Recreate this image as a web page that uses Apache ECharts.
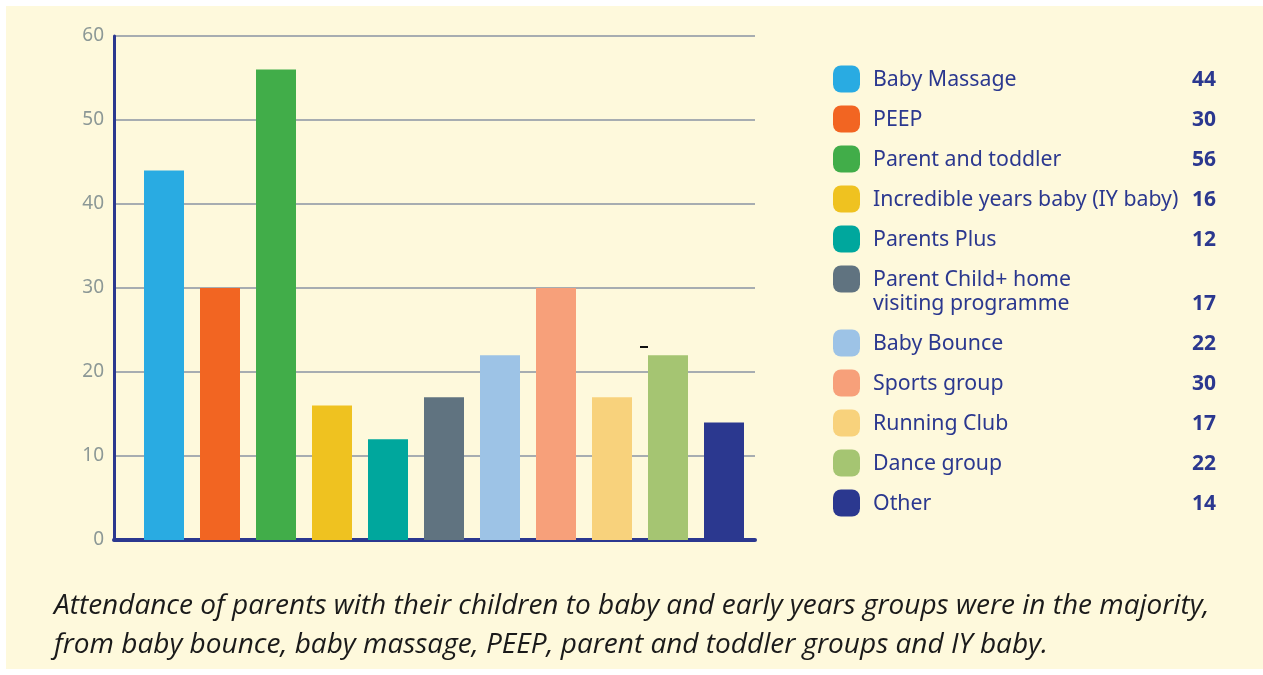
<!DOCTYPE html>
<html>
<head>
<meta charset="utf-8">
<script src="https://cdn.jsdelivr.net/npm/echarts@6/dist/echarts.min.js"></script>
<style>
  html, body { margin: 0; padding: 0; background: #ffffff; }
  #chart { position: absolute; left: 6px; top: 6px; width: 1257px; height: 663px; }
</style>
</head>
<body>
<div id="chart"></div>
<script>
// attendance per group
var categories = ['Baby Massage', 'PEEP', 'Parent and toddler', 'Incredible years baby (IY baby)',
    'Parents Plus', 'Parent Child+ home\nvisiting programme', 'Baby Bounce', 'Sports group',
    'Running Club', 'Dance group', 'Other'];
var values = [44, 30, 56, 16, 12, 17, 22, 30, 17, 22, 14];
var colors = ['#29ABE2', '#F26522', '#41AD49', '#EFC220', '#00A79D', '#607380',
    '#9DC3E6', '#F7A07A', '#F8D27C', '#A5C572', '#2B388F'];
var yTicks = [0, 10, 20, 30, 40, 50, 60];
var caption = 'Attendance of parents with their children to baby and early years groups were in the majority,\n' +
    'from baby bounce, baby massage, PEEP, parent and toddler groups and IY baby.';

var navy = '#2B388F';
var chart = echarts.init(document.getElementById('chart'));

// legend built from the arrays (icon + name + value), offsets are relative to chart div
var legendItems = [];
var rowY = 73; // centre of first row in chart coords
for (var i = 0; i < categories.length; i++) {
    var lines = categories[i].split('\n');
    legendItems.push({
        type: 'rect',
        shape: { x: 827, y: rowY - 13.5, width: 27, height: 27, r: 8 },
        style: { fill: colors[i] }
    });
    legendItems.push({
        type: 'text',
        x: 867, y: rowY - 11,
        style: {
            text: categories[i], fill: navy, fontSize: 21.3, lineHeight: 24,
            fontFamily: 'Noto Sans', verticalAlign: 'top'
        }
    });
    legendItems.push({
        type: 'text',
        x: 1210, y: rowY + 1 + (lines.length - 1) * 24,
        style: {
            text: String(values[i]), fill: navy, fontSize: 21, fontWeight: 'bold',
            fontFamily: 'Noto Sans', align: 'right', verticalAlign: 'middle'
        }
    });
    rowY += 40 + (lines.length - 1) * 24;
}

var option = {
    backgroundColor: '#FEF9DC',
    animation: false,
    title: {
        text: caption,
        left: 43, top: 576,
        textStyle: {
            fontFamily: 'Open Sans', fontStyle: 'italic', fontWeight: 'normal',
            fontSize: 28, lineHeight: 39, color: '#1a1a1a'
        }
    },
    grid: [
        { left: 108, top: 30, width: 641, height: 504 },
        { left: 130, top: 30, width: 616, height: 504 }
    ],
    xAxis: [
        {
            gridIndex: 0, type: 'value', min: 0, max: 1,
            axisLine: { show: true, lineStyle: { color: navy, width: 4 } },
            axisTick: { show: false }, axisLabel: { show: false }, splitLine: { show: false }
        },
        {
            gridIndex: 1, type: 'category', data: categories,
            axisLine: { show: false }, axisTick: { show: false }, axisLabel: { show: false }
        }
    ],
    yAxis: [
        {
            gridIndex: 0, type: 'value', min: yTicks[0], max: yTicks[yTicks.length - 1], interval: 10,
            axisLine: { show: true, lineStyle: { color: navy, width: 3 } },
            axisTick: { show: false },
            axisLabel: { color: '#8C9896', fontSize: 19, fontFamily: 'Noto Sans', margin: 10, padding: [5, 0, 0, 0] },
            splitLine: { lineStyle: { color: '#A7ADB1', width: 2 } }
        },
        {
            gridIndex: 1, type: 'value', min: 0, max: 60,
            axisLine: { show: false }, axisTick: { show: false },
            axisLabel: { show: false }, splitLine: { show: false }
        }
    ],
    series: [{
        type: 'bar',
        xAxisIndex: 1, yAxisIndex: 1,
        barWidth: 40,
        z: 3,
        data: values.map(function (v, i) {
            return { value: v, itemStyle: { color: colors[i] } };
        })
    }],
    graphic: legendItems.concat([
        { type: 'rect', shape: { x: 634, y: 340, width: 8, height: 2 }, style: { fill: '#111' } }
    ])
};

chart.setOption(option);
</script>
</body>
</html>
